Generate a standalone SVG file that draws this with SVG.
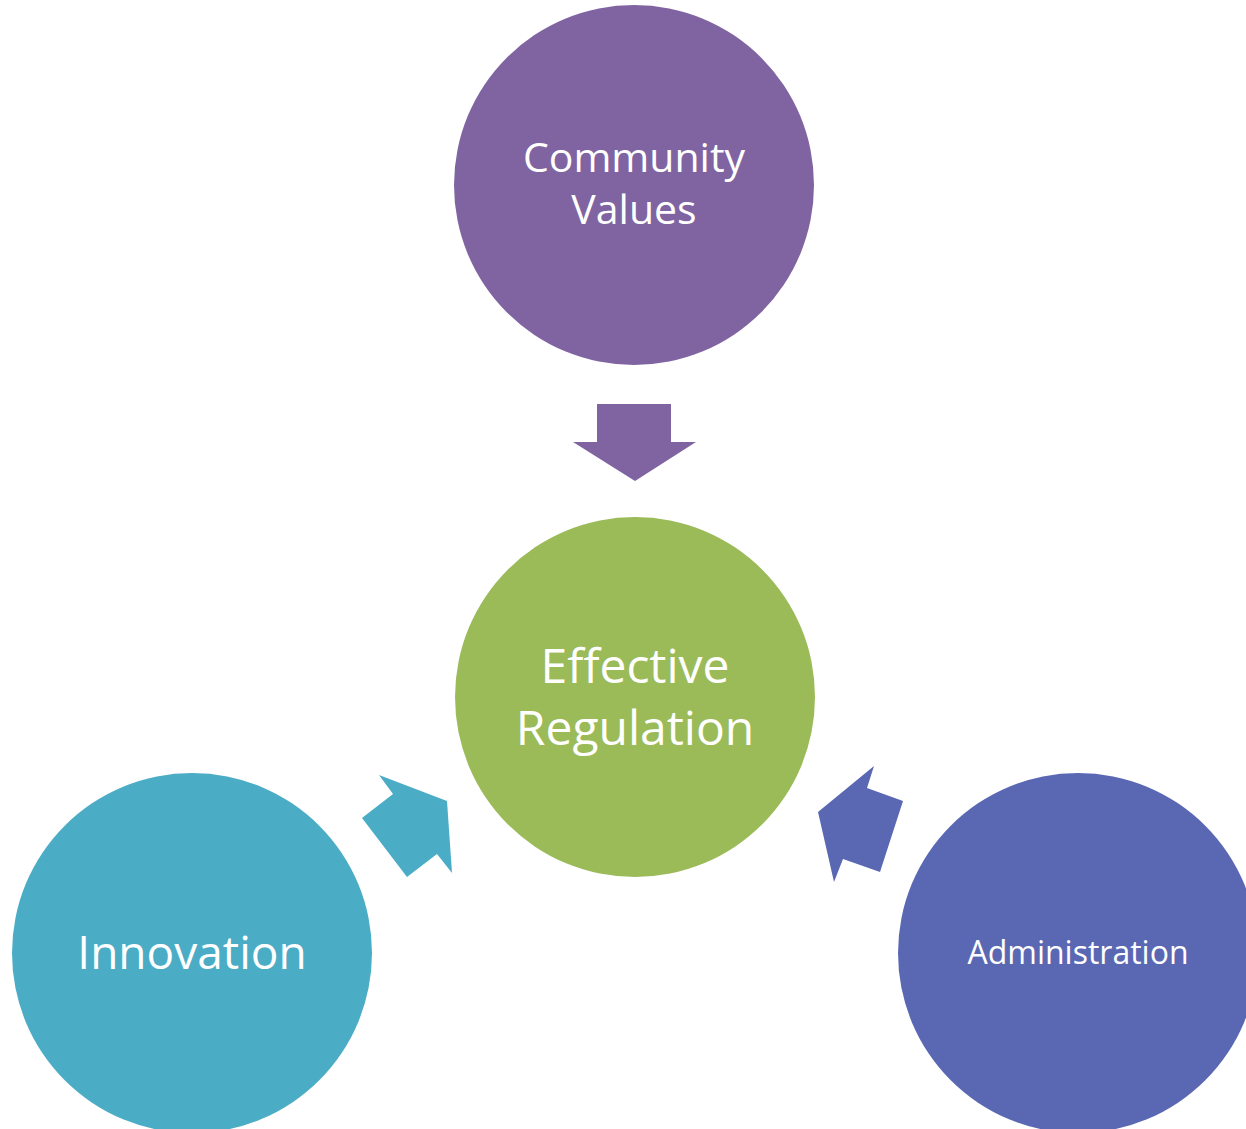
<svg xmlns="http://www.w3.org/2000/svg" width="1246" height="1129" viewBox="0 0 1246 1129">
<style>
text{font-family:"Open Sans","Noto Sans","Liberation Sans",sans-serif;fill:#fff;text-anchor:middle}
</style>
<rect width="1246" height="1129" fill="#fff"/>
<g id="connectors">
<polygon id="arrow-community" fill="#8064A2" points="597,404 671,404 671,442 696,442 635,481 573,442 597,442"/>
<polygon id="arrow-innovation" fill="#4BACC6" points="379,775 447,801 452,873 437,854 407,877 362,818 393,794"/>
<polygon id="arrow-admin" fill="#5A68B4" points="874,766 867,788 903,801 880,872 843,859 834,882 818,812"/>
</g>
<g id="community">
<circle cx="634" cy="185" r="180" fill="#8064A2"/>
<text x="634" y="172" font-size="41">Community</text>
<text x="634" y="224" font-size="41">Values</text>
</g>
<g id="effective">
<circle cx="635" cy="697" r="180" fill="#9BBB59"/>
<text x="635" y="683" font-size="48">Effective</text>
<text x="635" y="745" font-size="48">Regulation</text>
</g>
<g id="innovation">
<circle cx="192" cy="953" r="180" fill="#4BACC6"/>
<text x="192" y="969" font-size="46">Innovation</text>
</g>
<g id="administration">
<circle cx="1078" cy="953" r="180" fill="#5A68B4"/>
<text x="1078" y="964" font-size="32">Administration</text>
</g>
</svg>
